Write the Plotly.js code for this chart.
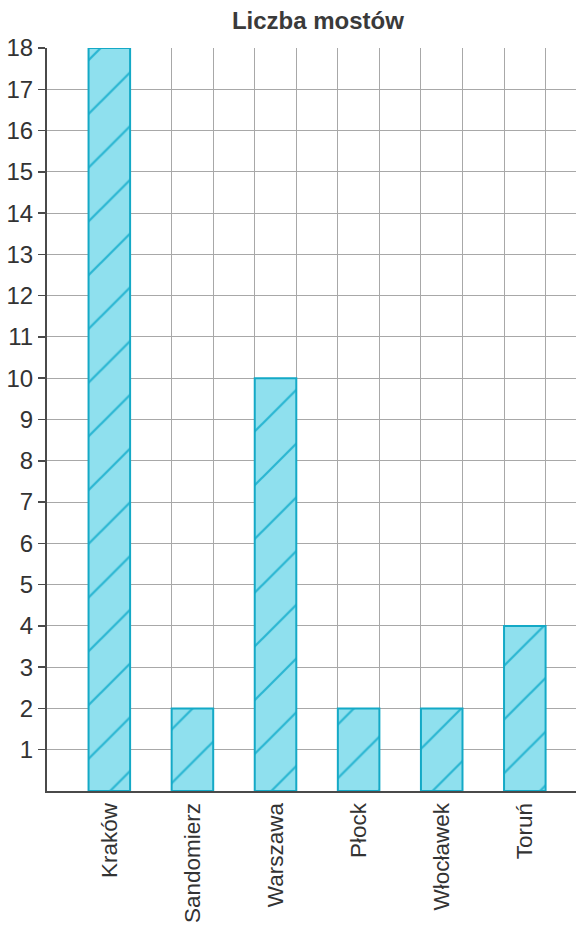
<!DOCTYPE html>
<html>
<head>
<meta charset="utf-8">
<script src="https://cdn.plot.ly/plotly-3.0.1.min.js"></script>
<style>html,body{margin:0;padding:0;background:#fff;}#chart{width:576px;height:928px;}</style>
</head>
<body>
<div id="chart"></div>
<script>
var categories = ["Kraków", "Sandomierz", "Warszawa", "Płock", "Włocławek", "Toruń"];
var bridges = [18, 2, 10, 2, 2, 4];
var yTicks = [1,2,3,4,5,6,7,8,9,10,11,12,13,14,15,16,17,18];

var positions = categories.map(function(c, i){ return i; });

var trace = {
  type: 'bar',
  x: positions,
  y: bridges,
  width: 0.5,
  marker: {
    color: '#8fe0ee',
    line: {color: '#14a9c6', width: 2},
    pattern: {shape: '/', fgcolor: '#2ab6d2', bgcolor: '#8fe0ee', size: 38, solidity: 0.06}
  },
  hoverinfo: 'none'
};

var layout = {
  width: 576,
  height: 928,
  margin: {l: 47, r: 0, t: 48, b: 137},
  paper_bgcolor: '#ffffff',
  plot_bgcolor: '#ffffff',
  showlegend: false,
  font: {family: 'Liberation Sans, Arial, sans-serif', color: '#333333', size: 24},
  title: {
    text: '<b>Liczba mostów</b>',
    x: 0.552, xanchor: 'center',
    y: 0.978, yanchor: 'middle',
    font: {size: 24, color: '#3a3a3a', family: 'Liberation Sans, Arial, sans-serif'}
  },
  xaxis: {
    type: 'linear',
    range: [-0.75, 5.616],
    tickmode: 'array',
    tickvals: positions,
    ticktext: categories,
    tickangle: -90,
    showgrid: false,
    zeroline: false,
    showline: true,
    linecolor: '#4a4a4a',
    linewidth: 2,
    ticks: 'outside',
    ticklen: 1,
    tickcolor: 'rgba(0,0,0,0)',
    tickfont: {size: 22.5, color: '#333333'},
    minor: {
      tickmode: 'linear',
      tick0: 0.25,
      dtick: 0.5,
      showgrid: true,
      gridcolor: '#a8a8a8',
      gridwidth: 1,
      ticks: ''
    },
    fixedrange: true
  },
  yaxis: {
    range: [0, 18],
    tickmode: 'array',
    tickvals: yTicks,
    ticktext: yTicks.map(String),
    showgrid: true,
    gridcolor: '#a8a8a8',
    gridwidth: 1,
    zeroline: false,
    showline: true,
    linecolor: '#4a4a4a',
    linewidth: 2,
    ticks: 'outside',
    ticklen: 7,
    tickwidth: 1.5,
    tickcolor: '#4a4a4a',
    tickfont: {size: 24, color: '#333333'},
    fixedrange: true
  }
};

Plotly.newPlot('chart', [trace], layout, {displayModeBar: false, staticPlot: true});
</script>
</body>
</html>
